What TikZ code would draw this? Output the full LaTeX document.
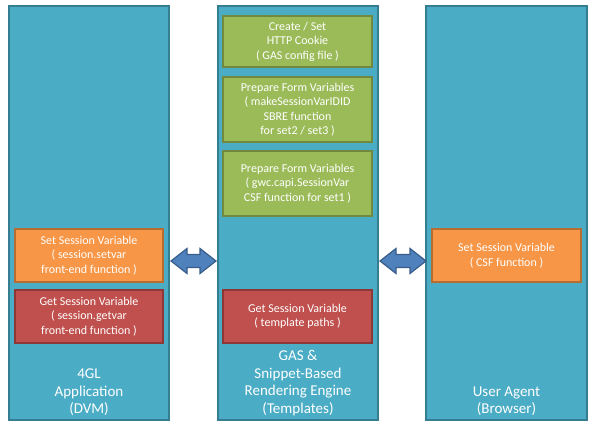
\documentclass[tikz,border=0pt]{standalone}
\usepackage{fontspec}
\setmainfont{Carlito}
\definecolor{colfill}{HTML}{4BACC6}
\definecolor{colline}{HTML}{357D91}
\definecolor{grfill}{HTML}{9BBB59}
\definecolor{grline}{HTML}{71893F}
\definecolor{orfill}{HTML}{F79646}
\definecolor{orline}{HTML}{B66D31}
\definecolor{rdfill}{HTML}{C0504D}
\definecolor{rdline}{HTML}{8C3836}
\definecolor{arfill}{HTML}{4F81BD}
\definecolor{arline}{HTML}{385D8A}
\tikzset{
  column/.style={draw=colline, fill=colfill, line width=1.5pt, inner sep=0pt},
  box/.style={line width=1.5pt, inner sep=0pt, text=white, align=center,
    font=\fontsize{12}{14.5}\selectfont},
  greenbox/.style={box, draw=grline, fill=grfill, minimum width=149pt},
  orangebox/.style={box, draw=orline, fill=orfill, minimum width=148pt, minimum height=53pt},
  redbox/.style={box, draw=rdline, fill=rdfill, minimum width=148pt, minimum height=53pt},
  collabel/.style={text=white, align=center, inner sep=0pt, anchor=south,
    font=\fontsize{15}{17.5}\selectfont},
  blockarrow/.style={draw=arline, fill=arfill, line width=1.2pt, line join=miter}
}
\begin{document}
\begin{tikzpicture}[x=1pt, y=-1pt]
\useasboundingbox (0,0) rectangle (595,430);
\fill[white] (0,0) rectangle (595,430);
% columns
\node[column, minimum width=160pt, minimum height=414pt] (colL) at (89,213) {};
\node[column, minimum width=160pt, minimum height=414pt] (colM) at (298,213) {};
\node[column, minimum width=161pt, minimum height=414pt] (colR) at (506.5,213) {};
% middle column boxes
\node[greenbox, minimum height=51pt] (g1) at (297.5,41.5) {Create / Set\\HTTP Cookie\\( GAS config file )};
\node[greenbox, minimum height=65pt] (g2) at (297.5,109.5) {Prepare Form Variables\\( makeSessionVarIDID\\SBRE function\\for set2 / set3 )};
\node[greenbox, minimum height=65pt] (g3) at (297.5,183.5) {Prepare Form Variables\\( gwc.capi.SessionVar\\CSF function for set1 )};
\node[redbox, minimum width=149pt] (getM) at (297.5,316.5) {Get Session Variable\\( template paths )};
% left column boxes
\node[orangebox] (setL) at (89,255.5) {Set Session Variable\\( session.setvar\\front-end function )};
\node[redbox] (getL) at (89,316.5) {Get Session Variable\\( session.getvar\\front-end function )};
% right column box
\node[orangebox, minimum width=149pt] (setR) at (506.5,255.5) {Set Session Variable\\( CSF function )};
% column labels
\node[collabel] (labL) at (89,416) {4GL\\Application\\(DVM)};
\node[collabel] (labM) at (298,416) {GAS \&\\Snippet-Based\\Rendering Engine\\(Templates)};
\node[collabel] (labR) at (506.5,416) {User Agent\\(Browser)};
% double block arrows
\draw[blockarrow] (171,261) -- (187,248.5) -- (187,254.5) -- (200,254.5) -- (200,248.5)
  -- (216,261) -- (200,273.5) -- (200,267.5) -- (187,267.5) -- (187,273.5) -- cycle;
\draw[blockarrow] (380,261) -- (396,248.5) -- (396,254.5) -- (410,254.5) -- (410,248.5)
  -- (426,261) -- (410,273.5) -- (410,267.5) -- (396,267.5) -- (396,273.5) -- cycle;
\end{tikzpicture}
\end{document}
